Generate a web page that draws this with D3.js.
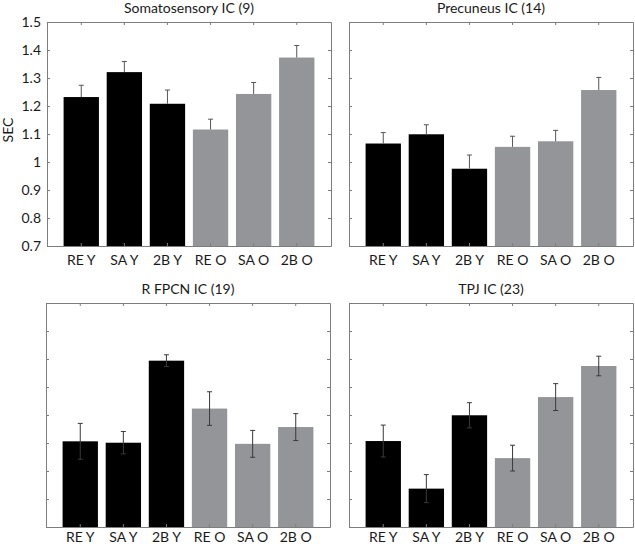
<!DOCTYPE html>
<html>
<head>
<meta charset="utf-8">
<script src="https://cdn.jsdelivr.net/npm/d3@7"></script>
<style>
  html, body { margin: 0; padding: 0; background: #fff; }
  svg { display: block; font-family: Lato, "Open Sans", sans-serif; }
</style>
</head>
<body>
<svg id="chart" width="635" height="547"></svg>
<script>
// ---- data ----
const categories = ["RE Y", "SA Y", "2B Y", "RE O", "SA O", "2B O"];
const groups = ["young", "young", "young", "old", "old", "old"];
const yTicks = [0.7, 0.8, 0.9, 1, 1.1, 1.2, 1.3, 1.4, 1.5];

const somatoMean = [1.232, 1.321, 1.208, 1.116, 1.243, 1.373];
const somatoErr  = [0.042, 0.038, 0.049, 0.037, 0.041, 0.043];
const precMean   = [1.066, 1.099, 0.976, 1.054, 1.074, 1.257];
const precErr    = [0.039, 0.034, 0.049, 0.038, 0.039, 0.045];
const fpcnMean   = [1.006, 1.001, 1.294, 1.123, 0.997, 1.057];
const fpcnErr    = [0.064, 0.040, 0.021, 0.060, 0.048, 0.048];
const tpjMean    = [1.007, 0.837, 1.099, 0.946, 1.164, 1.275];
const tpjErr     = [0.057, 0.050, 0.045, 0.046, 0.048, 0.035];

const panels = [
  { title: "Somatosensory IC (9)", mean: somatoMean, err: somatoErr, x0: 47, y0: 22, showYLabels: true, lower: false, pad: 9 },
  { title: "Precuneus IC (14)", mean: precMean, err: precErr, x0: 349, y0: 22, showYLabels: false, lower: false, pad: 9 },
  { title: "R FPCN IC (19)", mean: fpcnMean, err: fpcnErr, x0: 46, y0: 303, showYLabels: false, lower: true, pad: 5 },
  { title: "TPJ IC (23)", mean: tpjMean, err: tpjErr, x0: 349, y0: 303, showYLabels: false, lower: true, pad: 5 }
];

const W = 284, H = 224;
const axisColor = "#7d7d7d";
const colors = { young: "#000000", old: "#939598" };
const fontSize = "14px";

const svg = d3.select("#chart");

panels.forEach(p => {
  const g = svg.append("g").attr("transform", `translate(${p.x0},${p.y0})`);
  const x = d3.scaleBand().domain(categories).range([0, W]).paddingInner(0.18).paddingOuter(0.385);
  const y = d3.scaleLinear().domain([0.7, 1.5]).range([H, 0]);

  // bars
  g.selectAll("rect.bar").data(categories).enter().append("rect")
    .attr("class", "bar")
    .attr("x", d => x(d))
    .attr("width", x.bandwidth())
    .attr("y", (d, i) => y(p.mean[i]))
    .attr("height", (d, i) => H - y(p.mean[i]))
    .attr("fill", (d, i) => colors[groups[i]]);

  // error bars
  const eb = g.selectAll("g.err").data(categories).enter().append("g").attr("class", "err")
    .attr("stroke", p.lower ? "#3a3a3a" : "#555").attr("stroke-width", 1).attr("fill", "none");
  const cx = d => x(d) + x.bandwidth() / 2;
  eb.append("line")
    .attr("x1", cx).attr("x2", cx)
    .attr("y1", (d, i) => y(p.lower ? p.mean[i] - p.err[i] : p.mean[i]))
    .attr("y2", (d, i) => y(p.mean[i] + p.err[i]));
  eb.append("line")
    .attr("x1", d => cx(d) - 2.5).attr("x2", d => cx(d) + 2.5)
    .attr("y1", (d, i) => y(p.mean[i] + p.err[i]))
    .attr("y2", (d, i) => y(p.mean[i] + p.err[i]));
  if (p.lower) {
    eb.append("line")
      .attr("x1", d => cx(d) - 2.5).attr("x2", d => cx(d) + 2.5)
      .attr("y1", (d, i) => y(p.mean[i] - p.err[i]))
      .attr("y2", (d, i) => y(p.mean[i] - p.err[i]));
  }

  // axes
  const left = d3.axisLeft(y).tickValues(yTicks).tickSizeInner(-3).tickSizeOuter(0)
    .tickFormat(p.showYLabels ? d3.format("") : () => "").tickPadding(6);
  const right = d3.axisRight(y).tickValues(yTicks).tickSizeInner(-3).tickSizeOuter(0).tickFormat(() => "");
  const bottom = d3.axisBottom(x).tickSizeInner(-3).tickSizeOuter(0).tickPadding(p.pad);
  const top = d3.axisTop(x).tickSizeInner(-3).tickSizeOuter(0).tickFormat(() => "");

  const styleAxis = sel => {
    sel.selectAll("path.domain").attr("stroke", axisColor);
    sel.selectAll(".tick line").attr("stroke", axisColor);
    sel.selectAll(".tick text").attr("fill", "#1a1a1a").style("font-size", fontSize)
      .style("font-family", "Lato, 'Open Sans', sans-serif");
  };
  g.append("g").call(left).call(styleAxis);
  g.append("g").attr("transform", `translate(${W},0)`).call(right).call(styleAxis);
  g.append("g").attr("transform", `translate(0,${H})`).call(bottom).call(styleAxis);
  g.append("g").call(top).call(styleAxis);

  // title
  g.append("text")
    .attr("x", W / 2).attr("y", -9)
    .attr("text-anchor", "middle")
    .attr("fill", "#1a1a1a")
    .style("font-size", fontSize)
    .text(p.title);

  if (p.showYLabels) {
    g.append("text")
      .attr("transform", `translate(${-34},${H / 2 - 4}) rotate(-90)`)
      .attr("text-anchor", "middle")
      .attr("fill", "#1a1a1a")
      .style("font-size", fontSize)
      .text("SEC");
  }
});
</script>
</body>
</html>
